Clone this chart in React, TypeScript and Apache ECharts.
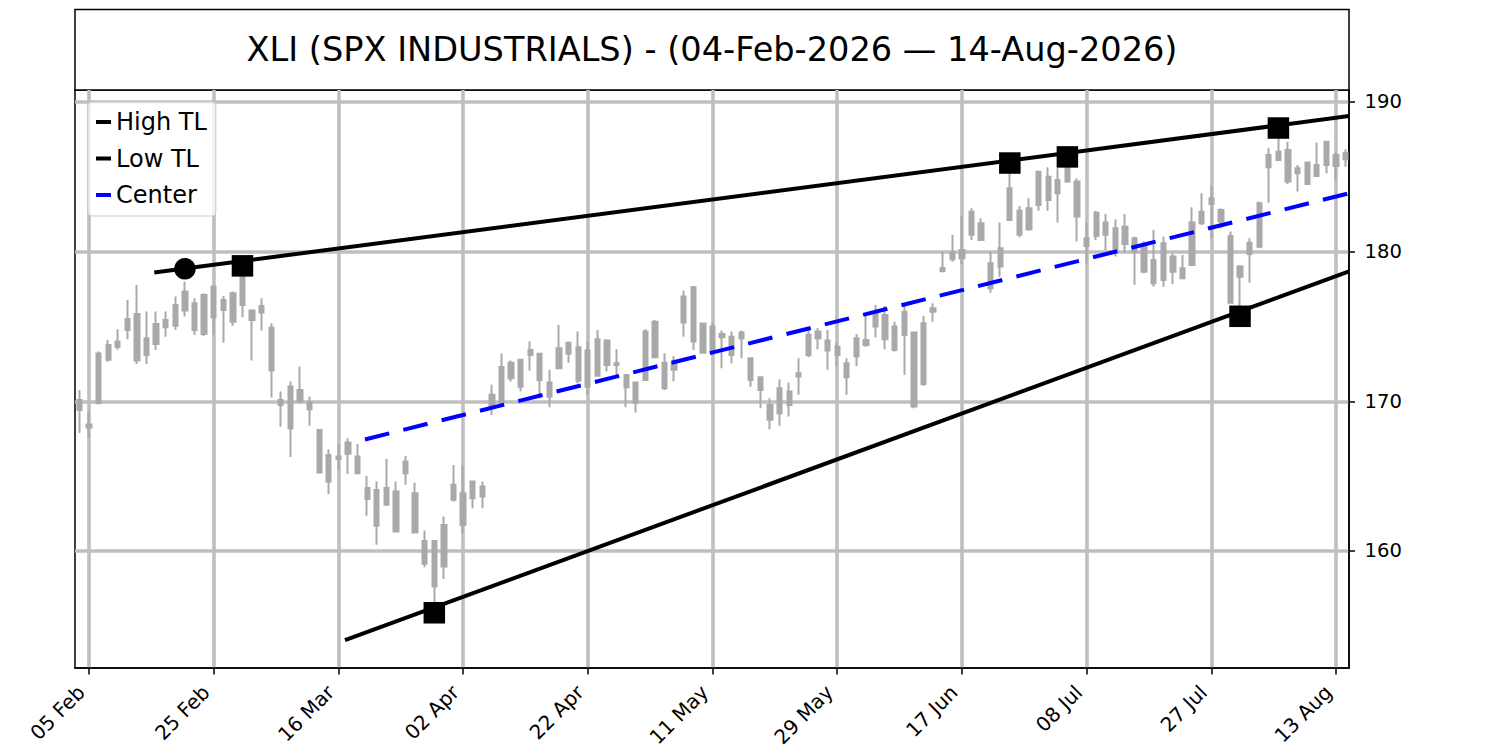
import React, { useEffect, useRef } from "react";
import * as echarts from "echarts";

const TITLE = "XLI (SPX INDUSTRIALS) - (04-Feb-2026 — 14-Aug-2026)";

// trading-day index of each x tick and its label
const tickIndex = [1, 14, 27, 40, 53, 66, 79, 92, 105, 118, 131];
const tickLabels = ["05 Feb", "25 Feb", "16 Mar", "02 Apr", "22 Apr", "11 May", "29 May", "17 Jun", "08 Jul", "27 Jul", "13 Aug"];
const yTicks = [160, 170, 180, 190];

// candles (index 0 = 04 Feb 2026 ... 132 = 14 Aug 2026)
const highs = [
  170.76, 169.31, 173.32, 174.1, 174.82, 176.77, 177.77, 176.0, 176.0, 176.0,
  177.0, 178.0, 176.89, 177.22, 177.78, 177.04, 177.33, 179.05, 176.15, 176.89,
  175.22, 170.65, 171.32, 172.32, 170.32, 168.14, 166.8, 167.15, 167.53, 167.15,
  165.02, 164.64, 166.15, 164.64, 166.35, 164.57, 161.37, 160.74, 162.3, 165.75,
  165.75, 164.64, 164.64, 171.1, 173.2, 172.72, 172.81, 173.99, 173.17, 172.1,
  175.1, 173.99, 174.66, 173.99, 174.77, 174.15, 173.48, 171.83, 171.32, 174.82,
  175.44, 173.21, 173.03, 177.4, 177.71, 175.26, 175.26, 174.73, 174.66, 174.73,
  172.88, 171.65, 170.2, 171.47, 171.25, 172.88, 174.77, 174.88, 174.77, 173.92,
  172.88, 174.5, 175.88, 176.44, 176.37, 175.32, 176.55, 174.66, 175.7, 176.55,
  180.0, 181.12, 182.34, 182.9, 182.23, 180.0, 181.95, 185.92, 183.05, 183.57,
  185.34, 185.64, 185.57, 186.33, 184.9, 181.9, 182.74, 182.52, 182.16, 182.52,
  181.0, 180.67, 181.45, 181.0, 179.89, 179.78, 182.97, 183.9, 184.39, 182.9,
  181.34, 179.11, 180.89, 183.35, 186.91, 188.26, 187.35, 185.79, 186.01, 187.28,
  187.35, 186.62, 186.84,
];
const lows = [
  167.89, 167.54, 169.87, 172.65, 173.44, 174.15, 172.5, 172.5, 173.43, 174.32,
  174.77, 175.66, 174.43, 174.37, 174.43, 173.92, 175.04, 175.62, 172.72, 174.73,
  170.25, 168.3, 166.27, 169.87, 168.36, 165.2, 163.81, 165.37, 165.15, 165.2,
  162.35, 160.41, 163.09, 161.23, 164.42, 161.23, 158.92, 155.87, 158.12, 163.3,
  161.19, 162.86, 162.86, 169.09, 169.7, 171.32, 170.65, 172.05, 170.2, 169.6,
  172.21, 172.58, 171.21, 170.43, 171.65, 171.99, 171.65, 169.6, 169.25, 171.43,
  172.94, 170.76, 171.32, 174.32, 173.43, 173.17, 173.1, 172.21, 172.54, 172.88,
  170.98, 169.54, 168.14, 168.36, 168.98, 170.43, 172.94, 173.48, 172.1, 172.36,
  170.43, 172.36, 173.65, 174.28, 173.48, 173.32, 171.76, 169.54, 171.03, 175.32,
  178.6, 179.33, 179.18, 180.78, 180.78, 177.26, 178.33, 182.12, 180.96, 181.4,
  182.74, 182.74, 181.94, 184.6, 180.67, 179.22, 180.78, 180.11, 179.67, 179.89,
  177.78, 178.56, 177.66, 177.66, 177.84, 178.22, 179.11, 181.78, 180.89, 181.56,
  176.55, 175.68, 177.93, 180.23, 183.27, 186.08, 184.52, 184.01, 184.52, 185.06,
  185.24, 184.74, 185.68,
];
const bodyTop = [
  170.09, 168.45, 173.2, 173.77, 173.99, 175.5, 175.84, 174.22, 175.17, 175.44,
  176.44, 177.33, 176.55, 177.11, 177.66, 176.77, 177.22, 178.33, 176.06, 176.37,
  174.92, 170.09, 170.99, 170.76, 169.92, 168.09, 166.42, 166.31, 167.24, 166.31,
  164.2, 164.08, 164.2, 163.97, 165.97, 163.86, 160.66, 160.66, 161.74, 164.42,
  163.86, 164.64, 164.31, 170.43, 172.3, 172.58, 172.77, 173.43, 173.17, 171.25,
  173.55, 173.92, 173.61, 173.39, 174.15, 174.06, 172.54, 171.76, 171.25, 174.66,
  175.32, 172.58, 172.54, 177.0, 177.62, 175.2, 175.0, 174.5, 174.32, 174.59,
  172.88, 171.61, 169.76, 170.87, 170.65, 171.88, 174.44, 174.66, 174.06, 173.65,
  172.54, 174.22, 174.1, 175.88, 175.77, 174.99, 175.99, 174.59, 175.22, 176.22,
  178.9, 179.93, 180.11, 182.67, 181.9, 179.22, 180.23, 184.23, 182.74, 182.9,
  185.34, 185.01, 184.79, 185.68, 184.68, 180.89, 182.6, 181.94, 181.56, 181.67,
  180.89, 180.33, 179.44, 180.56, 179.67, 178.89, 181.94, 182.67, 183.57, 182.79,
  181.05, 179.0, 180.6, 183.23, 186.46, 186.68, 186.79, 185.57, 185.95, 185.79,
  187.35, 186.46, 186.57,
];
const bodyBottom = [
  169.42, 168.25, 169.87, 172.77, 173.62, 174.77, 172.72, 173.1, 173.83, 174.95,
  175.04, 176.06, 174.77, 174.5, 175.62, 176.1, 175.32, 176.44, 175.44, 175.93,
  172.05, 169.76, 168.2, 169.98, 169.47, 165.24, 164.64, 166.14, 166.49, 165.2,
  163.47, 161.68, 163.09, 161.3, 165.2, 161.23, 159.15, 157.64, 158.96, 163.42,
  161.74, 163.53, 163.64, 169.65, 169.9, 171.54, 170.98, 173.1, 171.43, 170.31,
  172.21, 173.17, 171.38, 170.98, 171.7, 172.43, 172.43, 170.94, 169.91, 171.43,
  172.94, 170.87, 172.1, 175.26, 173.99, 173.25, 173.39, 174.28, 173.1, 174.22,
  171.43, 170.76, 168.76, 169.2, 169.76, 171.65, 173.1, 174.22, 173.39, 173.1,
  171.61, 172.99, 173.77, 174.99, 174.15, 173.43, 174.43, 169.65, 171.16, 175.99,
  178.7, 179.49, 179.56, 181.12, 180.78, 177.55, 179.0, 182.12, 181.12, 181.5,
  183.12, 183.45, 183.9, 184.68, 182.34, 180.38, 181.05, 181.12, 180.0, 180.51,
  180.0, 178.66, 177.89, 178.11, 178.66, 178.22, 179.11, 181.9, 183.19, 182.01,
  176.59, 178.33, 179.84, 180.33, 185.64, 186.13, 184.68, 185.24, 184.52, 185.06,
  185.79, 185.72, 186.17,
];

// trend lines: [index, price] end points
const highTL = [[7.8, 178.6], [132.36, 189.06]];
const lowTL = [[27.69, 154.04], [132.36, 178.68]];
const centerTL = [[29.77, 167.45], [132.36, 183.9]];

// pivot markers
const highPivotIdx = [17, 97, 103, 125];
const highPivotVal = [179.05, 185.92, 186.33, 188.26];
const lowPivotIdx = [37, 121];
const lowPivotVal = [155.87, 175.68];
const anchorIdx = [11];
const anchorVal = [178.85];

const FONT = "DejaVu Sans";
const GRAY = "#a9a9a9";
const GRID_GRAY = "#bfbfbf";

export default function App() {
  const ref = useRef<HTMLDivElement>(null);

  useEffect(() => {
    if (!ref.current) return;
    const chart = echarts.init(ref.current, undefined, { renderer: "svg" });

    const candles = highs.map((h, i) => [i, bodyBottom[i], bodyTop[i], lows[i], h]);
    const squares = [
      ...highPivotIdx.map((x, k) => [x, highPivotVal[k]]),
      ...lowPivotIdx.map((x, k) => [x, lowPivotVal[k]]),
    ];
    const circles = anchorIdx.map((x, k) => [x, anchorVal[k]]);
    const labelMap: Record<number, string> = {};
    tickIndex.forEach((t, k) => (labelMap[t] = tickLabels[k]));

    chart.setOption({
      animation: false,
      backgroundColor: "#ffffff",
      textStyle: { fontFamily: FONT },
      grid: {
        left: 75,
        top: 90,
        width: 1274,
        height: 578,
        show: true,
        borderColor: "#000",
        borderWidth: 1.5,
        backgroundColor: "transparent",
        containLabel: false,
        outerBoundsMode: "none",
      },
      graphic: [
        {
          type: "rect",
          shape: { x: 75, y: 9.5, width: 1274, height: 80.5 },
          style: { fill: "#fff", stroke: "#000", lineWidth: 1.5 },
          silent: true,
        },
        {
          type: "text",
          x: 712,
          y: 49.5,
          style: {
            text: TITLE,
            font: `33.6px '${FONT}'`,
            fill: "#000",
            align: "center",
            verticalAlign: "middle",
          },
          silent: true,
        },
      ],
      legend: {
        data: ["High TL", "Low TL", "Center"],
        orient: "vertical",
        left: 88,
        top: 102,
        icon: "rect",
        itemWidth: 15,
        itemHeight: 4,
        itemGap: 12.5,
        padding: [8, 9, 9, 8],
        backgroundColor: "rgba(255,255,255,0.8)",
        borderColor: "#cccccc",
        borderWidth: 1,
        borderRadius: 4,
        textStyle: { fontFamily: FONT, fontSize: 24, color: "#000" },
        selectedMode: false,
      },
      xAxis: {
        type: "value",
        min: -0.46,
        max: 132.36,
        position: "bottom",
        axisLine: { show: true, onZero: false, lineStyle: { color: "#000", width: 1.5 } },
        axisTick: {
          show: true,
          length: 6.5,
          inside: false,
          customValues: tickIndex,
          lineStyle: { color: "#000", width: 1.5 },
        },
        axisLabel: {
          show: true,
          customValues: tickIndex,
          formatter: (v: number) => labelMap[Math.round(v)] ?? "",
          rotate: 45,
          margin: 13,
          padding: [20, 11, 0, 0],
          fontFamily: FONT,
          fontSize: 20,
          color: "#000",
        },
        splitLine: { show: true, lineStyle: { color: GRID_GRAY, width: 3.6 } },
      },
      yAxis: {
        type: "value",
        position: "right",
        min: 152.18,
        max: 190.8,
        scale: true,
        axisLine: { show: true, onZero: false, lineStyle: { color: "#000", width: 1.5 } },
        axisTick: {
          show: true,
          length: 6,
          inside: false,
          customValues: yTicks,
          lineStyle: { color: "#000", width: 1.5 },
        },
        axisLabel: {
          show: true,
          customValues: yTicks,
          formatter: (v: number) => String(v),
          margin: 15.5,
          fontFamily: FONT,
          fontSize: 19.6,
          color: "#000",
        },
        splitLine: { show: true, lineStyle: { color: GRID_GRAY, width: 3.6 } },
      },
      series: [
        {
          name: "XLI",
          type: "candlestick",
          data: candles,
          encode: { x: 0, y: [1, 2, 3, 4] },
          barWidth: 4.8,
          silent: true,
          z: 2,
          itemStyle: {
            color: GRAY,
            color0: GRAY,
            borderColor: GRAY,
            borderColor0: GRAY,
            borderWidth: 2,
          },
        },
        {
          name: "High TL",
          type: "line",
          data: highTL,
          color: "#000",
          symbol: "none",
          silent: true,
          z: 3,
          lineStyle: { color: "#000", width: 4 },
        },
        {
          name: "Low TL",
          type: "line",
          data: lowTL,
          color: "#000",
          symbol: "none",
          silent: true,
          z: 3,
          lineStyle: { color: "#000", width: 4 },
        },
        {
          name: "Center",
          type: "line",
          data: centerTL,
          color: "#0000ff",
          symbol: "none",
          silent: true,
          z: 3,
          lineStyle: { color: "#0000ff", width: 4, type: [25, 14.5] },
        },
        {
          name: "Pivots",
          type: "scatter",
          data: squares,
          symbol: "rect",
          symbolSize: 21.5,
          silent: true,
          z: 4,
          itemStyle: { color: "#000", opacity: 1 },
        },
        {
          name: "Anchor",
          type: "scatter",
          data: circles,
          symbol: "circle",
          symbolSize: 21.5,
          silent: true,
          z: 4,
          itemStyle: { color: "#000", opacity: 1 },
        },
      ],
    });

    return () => chart.dispose();
  }, []);

  return (
    <div
      ref={ref}
      style={{ position: "absolute", left: 0, top: 0, width: 1500, height: 750 }}
    />
  );
}
